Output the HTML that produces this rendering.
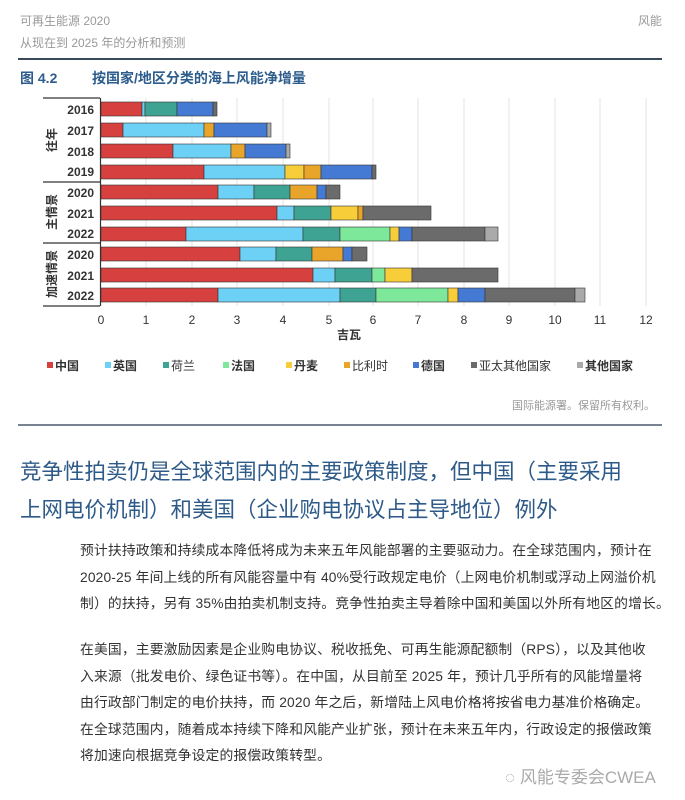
<!DOCTYPE html><html><head><meta charset="utf-8"><style>
body{margin:0;width:685px;height:800px;background:#fff;position:relative;overflow:hidden;font-family:"Liberation Sans","Noto Sans CJK SC",sans-serif}
.a{position:absolute;white-space:nowrap}
.p{position:absolute;left:80px;font-size:13.8px;letter-spacing:0.15px;color:#333;line-height:26.5px;white-space:nowrap}
</style></head><body>
<div class="a" style="left:20px;top:12px;font-size:12px;color:#999">可再生能源 2020</div>
<div class="a" style="left:20px;top:34px;font-size:12px;color:#999">从现在到 2025 年的分析和预测</div>
<div class="a" style="right:23px;top:12px;font-size:12px;color:#999">风能</div>
<div class="a" style="left:18px;top:58px;width:644px;height:2px;background:#3a4a5c"></div>
<div class="a" style="left:20px;top:68px;font-size:14px;color:#2d5d8c;font-weight:bold">图 4.2</div>
<div class="a" style="left:92px;top:68px;font-size:14px;color:#2d5d8c;font-weight:bold">按国家/地区分类的海上风能净增量</div>
<svg class="a" style="left:0;top:0" width="685" height="430" font-family="Liberation Sans,Noto Sans CJK SC,sans-serif">
<g stroke="#e3e3e3" stroke-width="1">
<line x1="146" y1="98" x2="146" y2="306"/><line x1="192" y1="98" x2="192" y2="306"/><line x1="237" y1="98" x2="237" y2="306"/><line x1="283" y1="98" x2="283" y2="306"/><line x1="329" y1="98" x2="329" y2="306"/><line x1="373" y1="98" x2="373" y2="306"/><line x1="418" y1="98" x2="418" y2="306"/><line x1="464" y1="98" x2="464" y2="306"/><line x1="509" y1="98" x2="509" y2="306"/><line x1="555" y1="98" x2="555" y2="306"/><line x1="600" y1="98" x2="600" y2="306"/><line x1="646" y1="98" x2="646" y2="306"/>
</g>
<g stroke="#333" stroke-width="1.2" fill="none">
<line x1="100.5" y1="98" x2="100.5" y2="306"/>
<line x1="43" y1="98" x2="100" y2="98"/><line x1="43" y1="182" x2="100" y2="182"/><line x1="43" y1="243" x2="100" y2="243"/><line x1="43" y1="306" x2="100" y2="306"/>
</g>
<g font-size="12" font-weight="bold" fill="#333" text-anchor="end">
<text x="94" y="114">2016</text><text x="94" y="135">2017</text><text x="94" y="156">2018</text><text x="94" y="176">2019</text><text x="94" y="197">2020</text><text x="94" y="218">2021</text><text x="94" y="238">2022</text><text x="94" y="259">2020</text><text x="94" y="280">2021</text><text x="94" y="300">2022</text>
</g>
<g font-size="12" font-weight="bold" fill="#333" text-anchor="middle">
<text transform="translate(56,140) rotate(-90)">往年</text>
<text transform="translate(56,212) rotate(-90)">主情景</text>
<text transform="translate(56,274) rotate(-90)">加速情景</text>
</g>
<g stroke="#333" stroke-width="0.6" id="bars"></g>
<g font-size="12" fill="#333" text-anchor="middle">
<text x="101" y="324">0</text><text x="146" y="324">1</text><text x="192" y="324">2</text><text x="237" y="324">3</text><text x="283" y="324">4</text><text x="329" y="324">5</text><text x="373" y="324">6</text><text x="418" y="324">7</text><text x="464" y="324">8</text><text x="509" y="324">9</text><text x="555" y="324">10</text><text x="600" y="324">11</text><text x="646" y="324">12</text>
<text x="349" y="339" font-weight="bold">吉瓦</text>
</g>
<g font-size="12" font-weight="bold" fill="#333">
<rect x="47" y="362" width="6" height="6" fill="#d6403f"/><text x="55" y="370">中国</text>
<rect x="105" y="362" width="6" height="6" fill="#6dd0f5"/><text x="113" y="370">英国</text>
<rect x="163" y="362" width="6" height="6" fill="#3ea393"/><text x="171" y="370" font-weight="normal">荷兰</text>
<rect x="223" y="362" width="6" height="6" fill="#7de89a"/><text x="231" y="370">法国</text>
<rect x="286" y="362" width="6" height="6" fill="#f7cd3a"/><text x="294" y="370">丹麦</text>
<rect x="344" y="362" width="6" height="6" fill="#e8a52a"/><text x="352" y="370" font-weight="normal">比利时</text>
<rect x="413" y="362" width="6" height="6" fill="#4479d4"/><text x="421" y="370">德国</text>
<rect x="471" y="362" width="6" height="6" fill="#6b6b6b"/><text x="479" y="370" font-weight="normal">亚太其他国家</text>
<rect x="577" y="362" width="6" height="6" fill="#aaa"/><text x="585" y="370">其他国家</text>
</g>
<text x="655" y="409" font-size="11" fill="#999" text-anchor="end">国际能源署。保留所有权利。</text>
<line x1="18" y1="425" x2="662" y2="425" stroke="#4a5a6c" stroke-width="1.5"/>
</svg>
<div class="a" style="left:20px;top:453px;font-size:21.5px;color:#2d5a88;line-height:38px">竞争性拍卖仍是全球范围内的主要政策制度，但中国（主要采用<br>上网电价机制）和美国（企业购电协议占主导地位）例外</div>
<div class="p" style="top:538px">预计扶持政策和持续成本降低将成为未来五年风能部署的主要驱动力。在全球范围内，预计在<br>2020-25 年间上线的所有风能容量中有 40%受行政规定电价（上网电价机制或浮动上网溢价机<br>制）的扶持，另有 35%由拍卖机制支持。竞争性拍卖主导着除中国和美国以外所有地区的增长。</div>
<div class="p" style="top:637px">在美国，主要激励因素是企业购电协议、税收抵免、可再生能源配额制（RPS），以及其他收<br>入来源（批发电价、绿色证书等）。在中国，从目前至 2025 年，预计几乎所有的风能增量将<br>由行政部门制定的电价扶持，而 2020 年之后，新增陆上风电价格将按省电力基准价格确定。<br>在全球范围内，随着成本持续下降和风能产业扩张，预计在未来五年内，行政设定的报偿政策<br>将加速向根据竞争设定的报偿政策转型。</div>
<div class="a" style="left:505px;top:763px;font-size:17px;color:#aaa">◌ 风能专委会CWEA</div>
<script>
var C={r:"#d6403f",lb:"#6dd0f5",t:"#3ea393",g:"#7de89a",y:"#f7cd3a",o:"#e8a52a",b:"#4479d4",d:"#6b6b6b",lg:"#aaa"};
var R=[
[102,[["r",142],["lb",145],["t",177],["b",213],["d",217]]],
[123,[["r",123],["lb",204],["o",214],["b",267],["lg",271]]],
[144,[["r",173],["lb",231],["o",245],["b",286],["lg",290]]],
[165,[["r",204],["lb",285],["y",304],["o",321],["b",372],["d",376]]],
[185,[["r",218],["lb",254],["t",290],["o",317],["b",326],["d",340]]],
[206,[["r",277],["lb",294],["t",331],["y",358],["o",363],["d",431]]],
[227,[["r",186],["lb",303],["t",340],["g",390],["y",399],["b",412],["d",485],["lg",498]]],
[247,[["r",240],["lb",276],["t",312],["o",343],["b",352],["d",367]]],
[268,[["r",313],["lb",335],["t",372],["g",385],["y",412],["d",498]]],
[288,[["r",218],["lb",340],["t",376],["g",448],["y",458],["b",485],["d",575],["lg",585]]]];
var s="";R.forEach(function(row){var x=101;row[1].forEach(function(sg){s+='<rect x="'+x+'" y="'+row[0]+'" width="'+(sg[1]-x)+'" height="14" fill="'+C[sg[0]]+'"/>';x=sg[1];});});
document.getElementById("bars").innerHTML=s;
</script>
</body></html>
